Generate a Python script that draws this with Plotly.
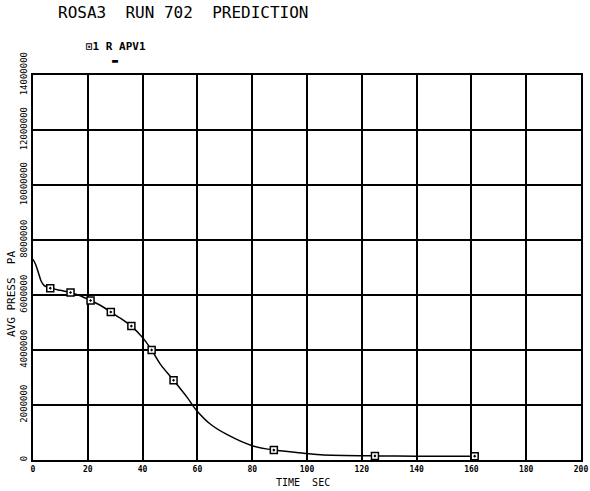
import plotly.graph_objects as go

# Curve (time s, pressure Pa)
curve_t = [0, 1, 2, 3, 4, 6.3, 10, 13.7, 17, 21, 25, 28.4, 32, 35.9, 40, 43.3, 46.6, 51.3,
           56.4, 59.4, 64.8, 70.9, 80, 87.9, 100, 105, 125, 140, 161]
curve_p = [7.3e6, 7.1e6, 6.8e6, 6.5e6, 6.35e6, 6.25e6, 6.17e6, 6.09e6, 5.98e6, 5.80e6,
           5.60e6, 5.38e6, 5.15e6, 4.87e6, 4.45e6, 4.0e6, 3.47e6, 2.90e6,
           2.26e6, 1.84e6, 1.30e6, 0.92e6, 0.52e6, 0.36e6, 0.24e6, 0.19e6, 0.15e6, 0.14e6, 0.14e6]

# Symbol positions
mark_t = [6.3, 13.7, 21, 28.4, 35.9, 43.3, 51.3, 87.9, 124.8, 161.2]
mark_p = [6.25e6, 6.09e6, 5.80e6, 5.38e6, 4.87e6, 4.0e6, 2.90e6, 0.36e6, 0.15e6, 0.14e6]

x_ticks = [0, 20, 40, 60, 80, 100, 120, 140, 160, 180, 200]
y_ticks = [0, 2000000, 4000000, 6000000, 8000000, 10000000, 12000000, 14000000]
y_labels = ["0", "2000000", "4000000", "6000000", "8000000", "10000000", "12000000", "14000000"]

FONT = "DejaVu Sans Mono"
W, H = 590, 491
L, R, T, B = 33, 9, 75, 31

fig = go.Figure()
fig.add_trace(go.Scatter(x=curve_t, y=curve_p, mode="lines",
                         line=dict(color="black", width=1.5, shape="spline", smoothing=0.8),
                         showlegend=False, hoverinfo="skip"))
mk = dict(symbol="square-dot", size=7, color="white", line=dict(color="black", width=1.5))
fig.add_trace(go.Scatter(x=mark_t, y=mark_p, mode="markers", marker=mk, showlegend=False))
# corner marker
fig.add_trace(go.Scatter(x=[0.9], y=[14.2e6], mode="markers", cliponaxis=False, marker=mk,
                         showlegend=False))

axis_common = dict(showgrid=True, gridcolor="black", gridwidth=2, showline=True, linecolor="black",
                   linewidth=2, mirror=True, zeroline=False, ticks="", automargin=False)

fig.update_layout(
    width=W, height=H,
    paper_bgcolor="white", plot_bgcolor="white",
    margin=dict(l=L, r=R, t=T, b=B),
    font=dict(family=FONT, color="black", size=9),
    xaxis=dict(range=[0, 200], tickvals=x_ticks, tickfont=dict(size=8, family=FONT, weight="bold"),
               ticklabelstandoff=0, ticklabeloverflow="allow", **axis_common),
    yaxis=dict(range=[0, 14000000], tickvals=y_ticks, ticktext=y_labels, tickangle=-90,
               tickfont=dict(size=9, family=FONT), ticklabelstandoff=0, **axis_common),
)

pw, ph = W - L - R, H - T - B


def px_ann(text, px, py, size, angle=0, anchor="center", weight="normal"):
    return dict(text=text, xref="paper", yref="paper", x=(px - L) / pw, y=1 - (py - T) / ph,
                showarrow=False, textangle=angle, xanchor=anchor, yanchor="middle",
                font=dict(size=size, family=FONT, weight=weight))


fig.update_layout(annotations=[
    px_ann("ROSA3  RUN 702  PREDICTION", 56, 13, 16, anchor="left"),
    px_ann("⊡1 R APV1", 84, 47, 11, anchor="left", weight="bold"),
    px_ann("▬", 115, 60, 10),
    px_ann("TIME  SEC", 303, 482, 10),
    px_ann("AVG PRESS  PA", 11, 294, 11, angle=-90),
])

fig.write_html("out.html", config={"displayModeBar": False},
               post_script="document.body.style.margin='0';")
